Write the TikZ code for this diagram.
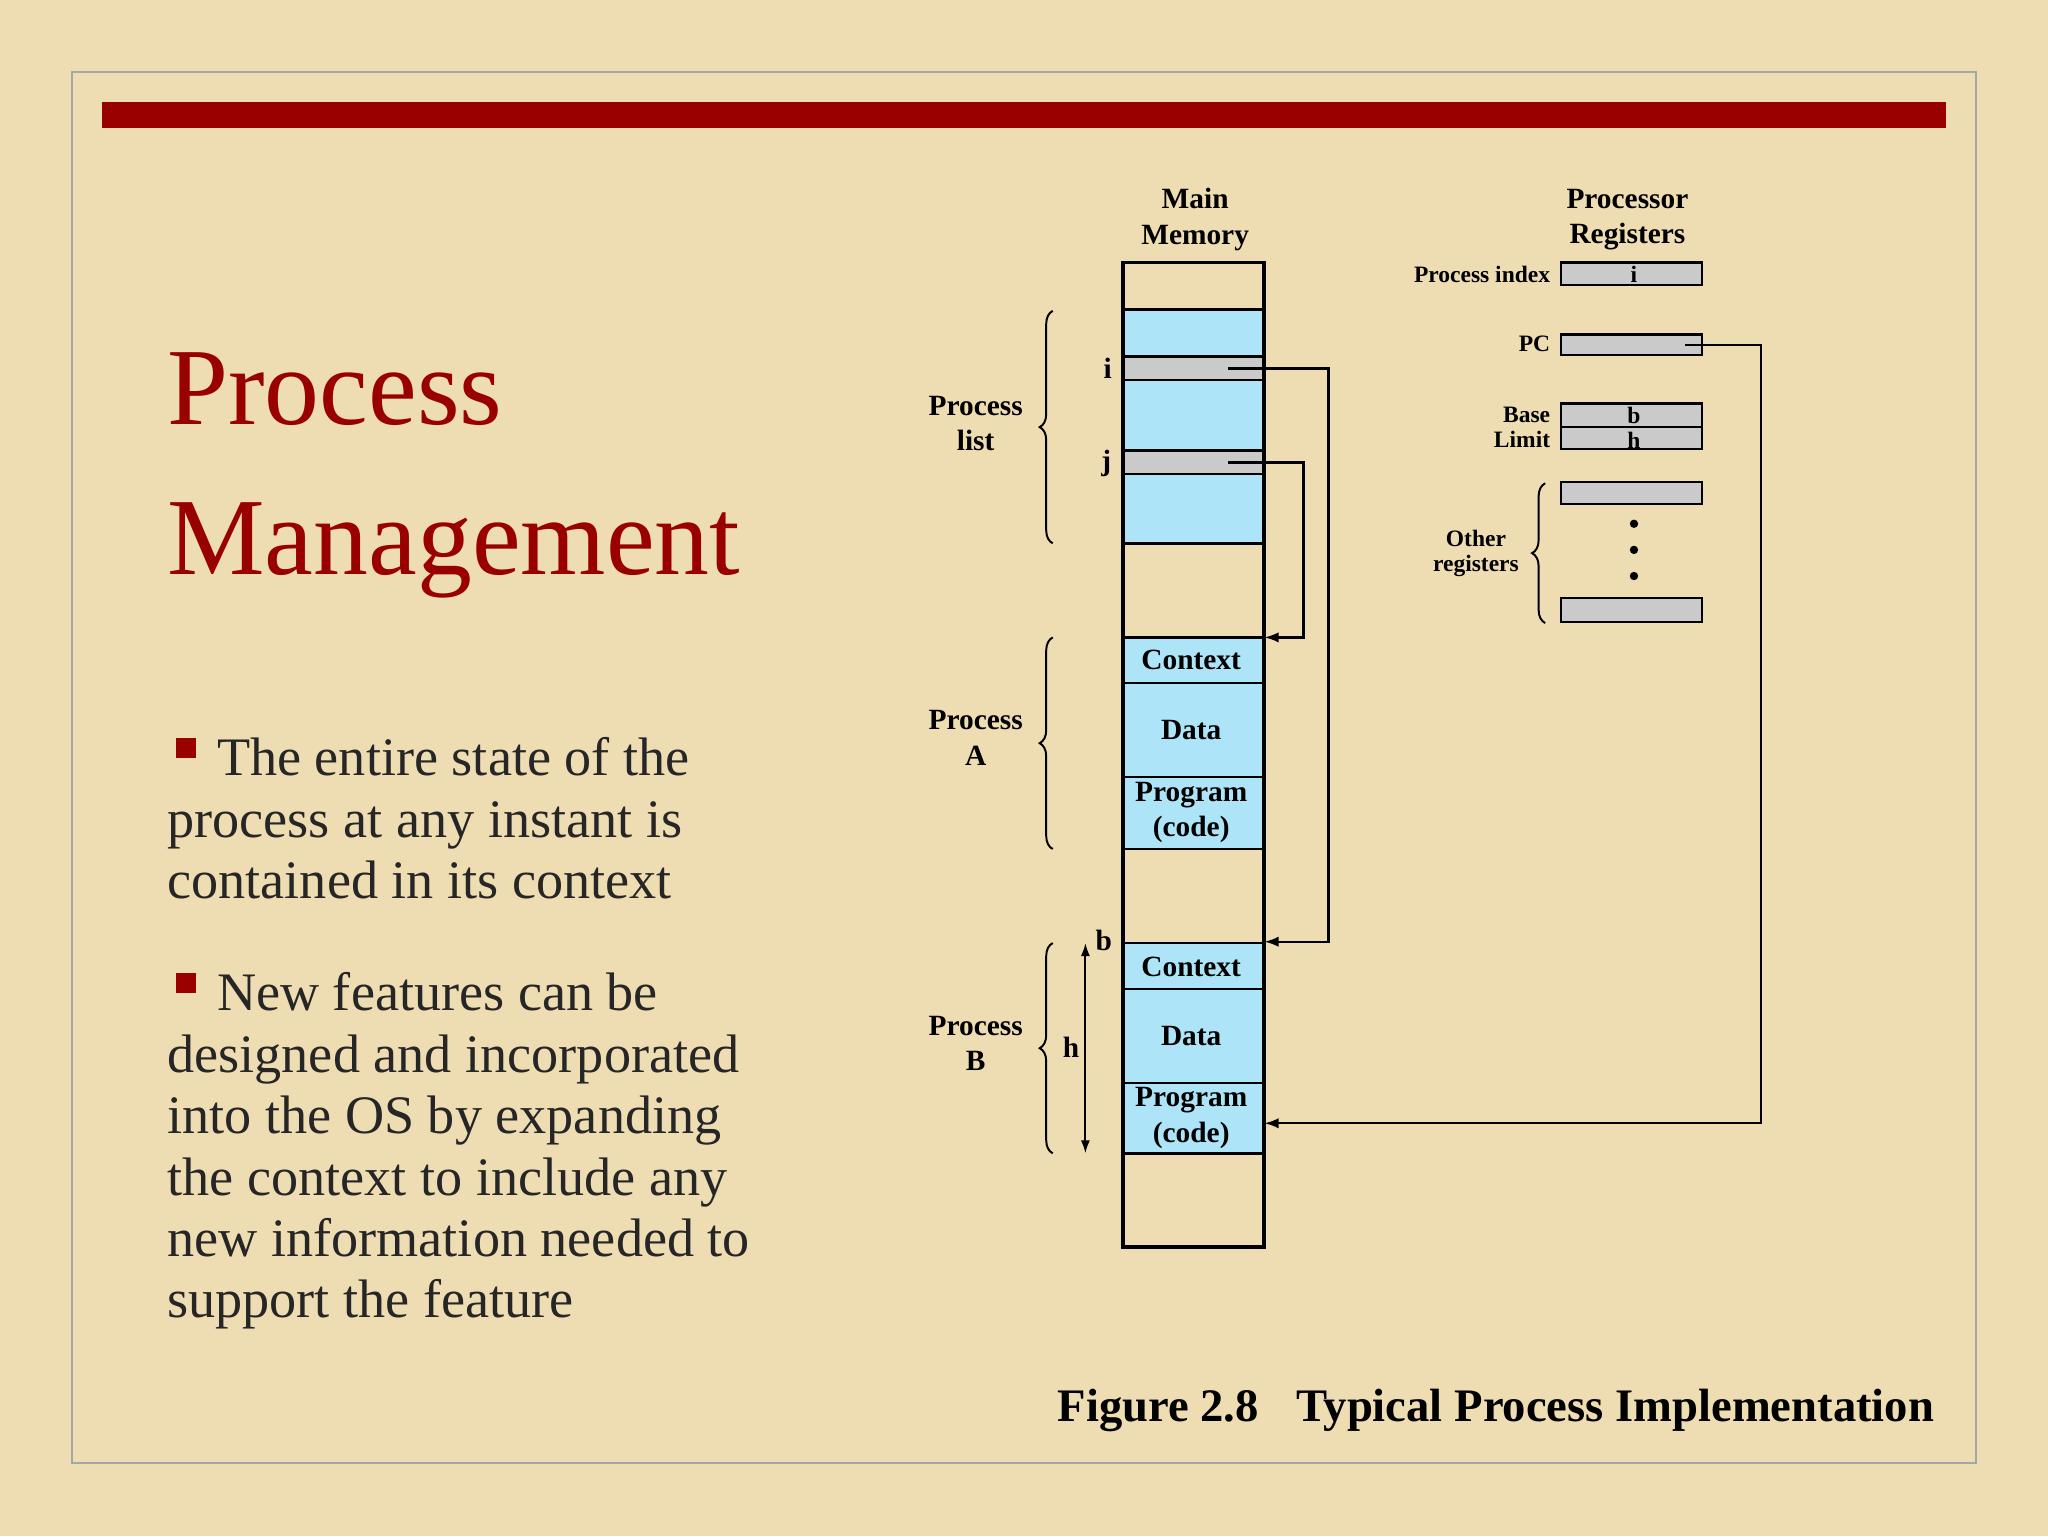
\documentclass[tikz,border=0pt]{standalone}
\usepackage{fontspec}
\setmainfont{Liberation Serif}
\usetikzlibrary{decorations.pathreplacing,arrows.meta}
\definecolor{bg}{HTML}{EEDDB2}
\definecolor{dred}{HTML}{990000}
\definecolor{mblue}{HTML}{AEE4F8}
\definecolor{rgray}{HTML}{CACACA}
\tikzset{
 lbl/.style={font=\bfseries\fontsize{22.5}{27}\selectfont,align=center,inner sep=0},
 sm/.style={font=\bfseries\fontsize{18}{19}\selectfont,inner sep=0},
 cell/.style={draw,line width=1.8pt},
 reg/.style={draw,fill=rgray,line width=1.8pt},
 conn/.style={line width=1.8pt,-{Latex[length=11pt,width=8pt]}},
 brc/.style={decorate,decoration={brace,amplitude=10pt},line width=1.5pt},
 body/.style={font=\fontsize{41.5}{47}\selectfont,text=black!85,anchor=base west,inner sep=0},
}
\begin{document}
\begin{tikzpicture}[x=1pt,y=-1pt]
\fill[bg] (0,0) rectangle (1568,1176);
\useasboundingbox (0,0) rectangle (1568,1176);
\draw[gray!70,line width=1.5pt] (55,55) rectangle (1513,1120);
\fill[dred] (78,78) rectangle (1490,98);
\node[anchor=base west,inner sep=0,text=dred,font=\fontsize{84}{90}\selectfont] (t1) at (128,325) {Process};
\node[anchor=base west,inner sep=0,text=dred,font=\fontsize{84}{90}\selectfont] (t2) at (128,440) {Management};
\fill[dred] (135,565) rectangle (150,580);
\fill[dred] (135,745) rectangle (150,760);
\node[body] (b1) at (166,594) {The entire state of the};
\node[body] (b2) at (128,641) {process at any instant is};
\node[body] (b3) at (128,688) {contained in its context};
\node[body] (b4) at (166,774) {New features can be};
\node[body] (b5) at (128,821) {designed and incorporated};
\node[body] (b6) at (128,868) {into the OS by expanding};
\node[body] (b7) at (128,915) {the context to include any};
\node[body] (b8) at (128,962) {new information needed to};
\node[body] (b9) at (128,1009) {support the feature};
% memory
\foreach \a/\b/\c in {201/237/bg,237/273/mblue,273/291/rgray,291/345/mblue,345/363/rgray,363/416/mblue,416/488/bg,488/523/mblue,523/595/mblue,595/650/mblue,650/722/bg,722/757/mblue,757/829/mblue,829/883/mblue,883/955/bg}
  \draw[cell,fill=\c] (860,\a) rectangle (968,\b);
\draw[line width=3pt] (860,201) rectangle (968,955);
\node[lbl] (ca) at (912,505) {Context};
\node[lbl] (da) at (912,559) {Data};
\node[lbl] (pa) at (912,622) {Program\\(code)};
\node[lbl] (cb) at (912,740) {Context};
\node[lbl] (db) at (912,793) {Data};
\node[lbl] (pb) at (912,856) {Program\\(code)};
\node[lbl] (mm) at (915,168) {Main\\Memory};
\node[lbl] (pr) at (1246,168) {Processor\\Registers};
\node[lbl] (li) at (848,282) {i};
\node[lbl] (lj) at (847,355) {j};
\node[lbl] (lb) at (845,720) {b};
\node[lbl] (lh) at (820,802) {h};
\coordinate (ht) at (831,722); \coordinate (hb) at (831,883);
\draw[line width=1.5pt,{Latex[length=10pt,width=7pt]}-{Latex[length=10pt,width=7pt]}] (ht) -- (hb);
% braces
\draw[brc] (806,416) -- (806,238);
\draw[brc] (806,650) -- (806,488);
\draw[brc] (806,883) -- (806,722);
\node[lbl] (pl) at (747,324) {Process\\list};
\node[lbl] (pA) at (747,565) {Process\\A};
\node[lbl] (pB) at (747,799) {Process\\B};
% registers
\draw[reg] (1195,201) rectangle (1303,218); \node[sm] (ri) at (1251,210) {i};
\draw[reg] (1195,256) rectangle (1303,272);
\draw[reg] (1195,309) rectangle (1303,327); \node[sm] (rb) at (1251,318) {b};
\draw[reg] (1195,327) rectangle (1303,344); \node[sm] (rh) at (1251,337) {h};
\draw[reg] (1195,369) rectangle (1303,386);
\draw[reg] (1195,458) rectangle (1303,476);
\foreach \y in {401,421,441} \fill (1251,\y) circle (3.2pt);
\node[sm,anchor=east] (lpi) at (1187,210) {Process index};
\node[sm,anchor=east] (lpc) at (1187,263) {PC};
\node[sm,anchor=east,align=right] (lbl2) at (1187,327) {Base\\Limit};
\node[sm,align=center] (lor) at (1130,424) {Other\\registers};
\draw[brc] (1183,477) -- (1183,370);
% connectors
\coordinate (si) at (940,282); \coordinate (ti) at (968,721);
\coordinate (sj) at (940,354); \coordinate (tj) at (968,488);
\coordinate (sp) at (1290,264); \coordinate (tp) at (968,860);
\draw[conn] (si) -- (1017,282) -- (1017,721) -- (ti);
\draw[conn] (sj) -- (998,354) -- (998,488) -- (tj);
\draw[conn] (sp) -- (1348,264) -- (1348,860) -- (tp);
\node[anchor=base east,inner sep=0,font=\bfseries\fontsize{35.7}{40}\selectfont] (cap) at (1481,1088) {Figure 2.8\hspace{0.8em}Typical Process Implementation};
\end{tikzpicture}
\end{document}
